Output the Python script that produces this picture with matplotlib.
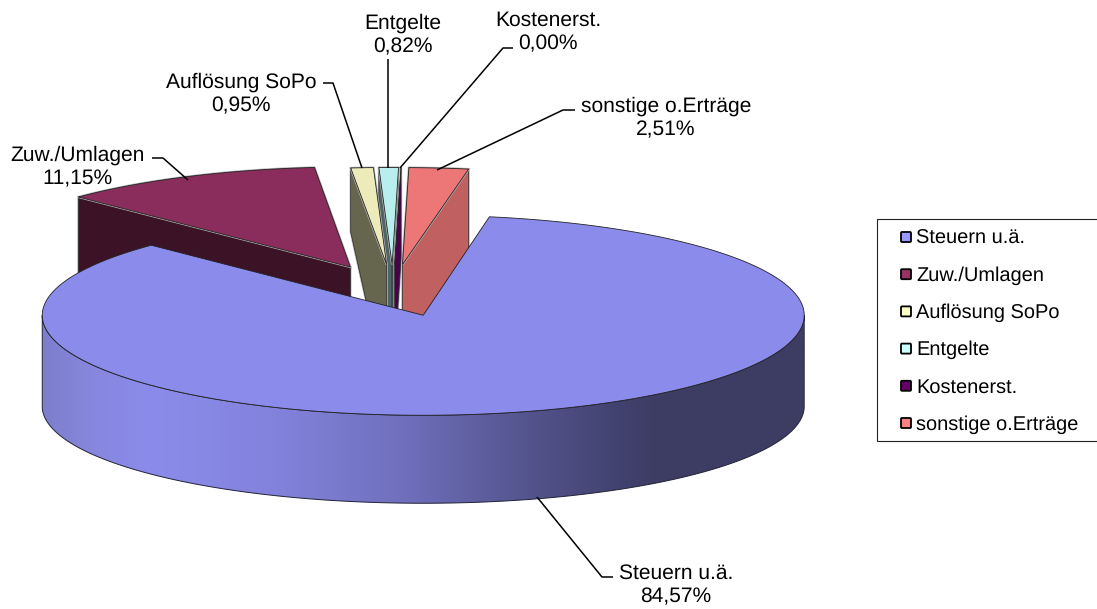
import matplotlib
matplotlib.use('Agg')
import matplotlib.pyplot as plt
import numpy as np
from matplotlib.colors import LinearSegmentedColormap
from matplotlib.patches import FancyBboxPatch, Polygon, Rectangle

labels = ['Steuern u.ä.', 'Zuw./Umlagen', 'Auflösung SoPo', 'Entgelte', 'Kostenerst.', 'sonstige o.Erträge']
values = [84.57, 11.15, 0.95, 0.82, 0.00, 2.51]

top_colors = ['#8B8BEB', '#8B2D5C', '#EEEBBB', '#B9EEEE', '#5F005F', '#ED7777']
wall_colors = ['#3D3D63', '#3C1326', '#66664F', '#506666', '#4A004A', '#C06060']
key_colors = ['#9999FF', '#993366', '#FFFFCC', '#CCFFFF', '#660066', '#FF8080']

# layout in pixels
label_pos = [(676, 585), (78, 167), (241, 94), (403, 35), (548, 32), (666, 118)]
leaders = [
	[(537, 497), (602, 577), (613, 577)],
	[(152, 158), (163, 158), (188, 180)],
	[(323, 83), (333, 83), (362, 168)],
	[(388, 59), (388, 168)],
	[(513, 48), (503, 48), (400, 168)],
	[(575, 110), (563, 110), (437, 170)],
]
# wall height at the rim end and at the centre end of a cut face (perspective)
wall_outer = [91, 91, 64, 64, 91, 91]
wall_inner = [91, 91, 128, 128, 91, 91]
# far slices come out a little flatter
radius_b = [100, 100, 97, 97, 97, 97]
CX, CY = 393, 290.5
A, B = 381, 100
B_LOW = 97
DEPTH = 91
EXPLODE = 0.26
START = 10.0

plt.rcParams['font.family'] = ['Liberation Sans', 'DejaVu Sans']
plt.rcParams['text.hinting'] = 'no_hinting'
plt.rcParams['text.hinting_factor'] = 1

def arc(cx, cy, t0, t1, n=200, b=B):
	t = np.radians(np.linspace(t0, t1, n))
	return np.column_stack([cx + A * np.sin(t), cy - b * np.cos(t)])

fig = plt.figure(figsize=(10.97, 6.09), dpi=100)
ax = fig.add_axes([0, 0, 1, 1])
ax.axis('off')

# slice angles run clockwise from the top of the ellipse
sweeps = np.array(values) / sum(values) * 360
starts = START + np.concatenate([[0], np.cumsum(sweeps)[:-1]])

drawn = [3, 4, 2, 5, 1, 0]
for z, i in enumerate(drawn):
	t0, t1 = starts[i], starts[i] + sweeps[i]
	mid = np.radians((t0 + t1) / 2)
	cx = CX + EXPLODE * A * np.sin(mid)
	cy = CY - EXPLODE * B * np.cos(mid)
	base = 2 + z * 2

	# cut faces of the slice
	for t, sign in ((t0, -1), (t1, 1)):
		if np.sin(np.radians(t)) * sign <= 0:
			continue
		outer = arc(cx, cy, t, t, 1, b=radius_b[i])[0]
		pts = [(cx, cy), outer, outer + [0, wall_outer[i]], (cx, cy + wall_inner[i])]
		if i != 0:
			ax.add_patch(Polygon(pts, closed=True, fc='none', ec='#b5b5b5', lw=1.6, zorder=base))
		ax.add_patch(Polygon(pts, closed=True, fc=wall_colors[i], ec='#2a2a2a', lw=0.5, zorder=base + 0.1))

	# top face
	pts = np.vstack([[(cx, cy)], arc(cx, cy, t0, t1, b=radius_b[i])])
	if i != 0 and sweeps[i] > 0:
		ax.add_patch(Polygon(pts, closed=True, fc='none', ec='#b5b5b5', lw=1.6, zorder=base + 0.2))
	if i == 0:
		# outer rim with the shading of the front
		rim = np.vstack([arc(cx, cy, 90, 270), arc(cx, cy + DEPTH, 270, 90, b=B_LOW)])
		grad = LinearSegmentedColormap.from_list('rim', [
			(0.00, '#7E7ECC'), (0.07, '#8787DF'), (0.14, '#8B8BEB'), (0.30, '#8383DD'),
			(0.47, '#7070BE'), (0.65, '#52528A'), (0.75, '#434372'), (0.80, '#3D3D65'),
			(1.00, '#3D3D63')])
		xs = np.linspace(0, 1, 512).reshape(1, -1)
		im = ax.imshow(xs, cmap=grad, aspect='auto', zorder=base,
			extent=(cx - A, cx + A, cy + DEPTH + B, cy))
		rim_patch = Polygon(rim, closed=True, fc='none', ec='#222238', lw=0.7, zorder=base + 0.1)
		ax.add_patch(rim_patch)
		im.set_clip_path(rim_patch)
	ax.add_patch(Polygon(pts, closed=True, fc=top_colors[i], ec='#222222', lw=0.6, zorder=base + 0.3))

ax.set_xlim(0, 1097)
ax.set_ylim(609, 0)

for i, name in enumerate(labels):
	text = name + '\n' + f'{values[i]:.2f}'.replace('.', ',') + '%'
	ax.text(label_pos[i][0], label_pos[i][1], text, ha='center', va='center', fontsize=15.35,
		linespacing=1.27, color='black', zorder=30)
	xy = np.array(leaders[i])
	ax.plot(xy[:, 0], xy[:, 1], color='black', lw=1.1, zorder=29, solid_capstyle='butt')

# legend box
ax.add_patch(Rectangle((876.5, 218.5), 240, 222.5, fc='white', ec='#222222', lw=0.8, zorder=20))
for i, name in enumerate(labels):
	y = 237 + i * 37.2
	ax.add_patch(FancyBboxPatch((901.5, y - 4.5), 9, 9, boxstyle='round,pad=0.5,rounding_size=1',
		fc=key_colors[i], ec='black', lw=1.3, zorder=21))
	ax.text(916, y + 1.5, name, ha='left', va='center', fontsize=14.2, color='black', zorder=22)

fig.savefig('out.png', dpi=100, facecolor='white')
